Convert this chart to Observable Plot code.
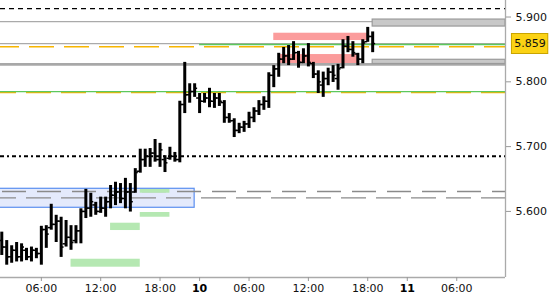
<!DOCTYPE html>
<html><head><meta charset="utf-8">
<script src="https://cdn.jsdelivr.net/npm/d3@7"></script>
<script src="https://cdn.jsdelivr.net/npm/@observablehq/plot@0.6"></script>
<style>
html,body{margin:0;padding:0;background:#fff;}
#chart{width:550px;height:300px;overflow:hidden;}
</style></head><body><div id="chart"></div>
<script>
// 30-minute OHLC bars (bar index = position on the session axis)
const opens  = [5.555,5.545,5.530,5.540,5.530,5.540,5.530,5.540,5.535,5.572,5.575,5.580,5.585,5.550,5.560,5.555,5.570,5.600,5.605,5.610,5.600,5.605,5.615,5.625,5.630,5.620,5.630,5.630,5.662,5.680,5.685,5.690,5.680,5.680,5.682,5.685,5.680,5.765,5.780,5.785,5.775,5.770,5.775,5.770,5.775,5.768,5.745,5.740,5.725,5.730,5.735,5.745,5.755,5.765,5.770,5.810,5.820,5.835,5.840,5.835,5.845,5.830,5.840,5.828,5.812,5.795,5.805,5.815,5.805,5.822,5.855,5.850,5.843,5.835,5.862,5.870];
const highs  = [5.568,5.555,5.547,5.552,5.550,5.543,5.545,5.543,5.577,5.578,5.611,5.594,5.591,5.586,5.578,5.578,5.604,5.634,5.628,5.614,5.622,5.622,5.640,5.645,5.643,5.651,5.643,5.666,5.696,5.696,5.697,5.711,5.705,5.686,5.699,5.691,5.770,5.830,5.797,5.797,5.782,5.782,5.790,5.782,5.782,5.771,5.751,5.743,5.736,5.739,5.753,5.760,5.771,5.777,5.814,5.825,5.844,5.853,5.856,5.862,5.847,5.851,5.859,5.830,5.817,5.815,5.821,5.825,5.827,5.865,5.870,5.862,5.844,5.865,5.884,5.877];
const lows   = [5.532,5.517,5.520,5.522,5.522,5.524,5.522,5.527,5.517,5.543,5.571,5.552,5.529,5.545,5.540,5.550,5.550,5.589,5.591,5.594,5.597,5.591,5.604,5.609,5.612,5.604,5.599,5.628,5.659,5.668,5.668,5.676,5.668,5.660,5.679,5.676,5.675,5.751,5.767,5.776,5.751,5.767,5.760,5.759,5.762,5.736,5.736,5.714,5.720,5.722,5.728,5.737,5.748,5.756,5.759,5.791,5.807,5.828,5.825,5.833,5.821,5.828,5.823,5.805,5.782,5.776,5.794,5.799,5.787,5.820,5.845,5.838,5.825,5.828,5.861,5.845];
const closes = [5.545,5.530,5.540,5.530,5.545,5.530,5.540,5.535,5.572,5.565,5.580,5.585,5.545,5.560,5.552,5.570,5.600,5.605,5.615,5.600,5.605,5.615,5.625,5.630,5.620,5.630,5.615,5.660,5.680,5.685,5.690,5.680,5.695,5.675,5.685,5.680,5.765,5.780,5.785,5.790,5.770,5.775,5.770,5.775,5.770,5.745,5.740,5.725,5.730,5.735,5.745,5.755,5.765,5.770,5.810,5.820,5.835,5.840,5.835,5.845,5.830,5.840,5.830,5.812,5.800,5.805,5.815,5.810,5.820,5.855,5.850,5.845,5.835,5.860,5.870,5.859];

// axis ticks
const timeTickBars   = [8, 20, 32, 50, 62, 74, 92];
const timeTickLabels = ["06:00","12:00","18:00","06:00","12:00","18:00","06:00"];
const dayTickBars    = [40, 82];
const dayTickLabels  = ["10", "11"];
const priceTicks     = [5.6, 5.7, 5.8, 5.9];
const lastPrice      = 5.859;

// horizontal levels
const levelBlackDashed = 5.913;
const levelGrayTop     = 5.893;
const levelGreenHigh   = 5.8576;
const levelGreenHighFrom = 40;
const levelOrangeHigh  = 5.854;
const levelGrayThick   = 5.827;
const levelGreenLow    = 5.785;
const levelOrangeLow   = 5.7835;
const levelDotted      = 5.685;
const levelGrayDashedA = 5.6307;
const levelGrayDashedB = 5.621;

// zones
const blueZoneX  = [-2, 39];
const blueZoneY  = [5.6056, 5.6349];
const greenZoneX1 = [28, 28, 22, 14];
const greenZoneX2 = [34, 34, 28, 28];
const greenZoneY1 = [5.6281, 5.5910, 5.5705, 5.5139];
const greenZoneY2 = [5.6338, 5.5983, 5.5818, 5.5262];
const pinkZoneX1 = [55, 56];
const pinkZoneX2 = [74, 72];
const pinkZoneY1 = [5.8637, 5.8278];
const pinkZoneY2 = [5.8750, 5.8421];
const grayBoxFrom = 75;
const grayBoxY1 = [5.8853, 5.8275];
const grayBoxY2 = [5.8961, 5.8340];

const xDomain = [-0.26, 101.86];
const yDomain = [5.498, 5.9255];

const bars = opens.map((o, i) => ({i, o, h: highs[i], l: lows[i], c: closes[i]}));
const greens = greenZoneX1.map((x1, j) => ({x1, x2: greenZoneX2[j], y1: greenZoneY1[j], y2: greenZoneY2[j]}));
const pinks = pinkZoneX1.map((x1, j) => ({x1, x2: pinkZoneX2[j], y1: pinkZoneY1[j], y2: pinkZoneY2[j]}));
const grays = grayBoxY1.map((y1, j) => ({x1: grayBoxFrom, x2: xDomain[1], y1, y2: grayBoxY2[j]}));
const timeMap = new Map(timeTickBars.map((b, j) => [b, timeTickLabels[j]]));
const dayMap = new Map(dayTickBars.map((b, j) => [b, dayTickLabels[j]]));

const chart = Plot.plot({
  width: 550, height: 300,
  marginLeft: 0, marginRight: 45, marginTop: 0, marginBottom: 23,
  style: {fontFamily: "DejaVu Sans", fontSize: "11px", background: "#fff"},
  x: {domain: xDomain, axis: null},
  y: {domain: yDomain, axis: null},
  marks: [
    // blue zone
    Plot.rect([0], {x1: blueZoneX[0], x2: blueZoneX[1], y1: blueZoneY[0], y2: blueZoneY[1], fill: "#e4eafc", stroke: "#5b8ff0", strokeWidth: 1.2}),
    // gray dashed levels
    Plot.ruleY([levelGrayDashedA], {stroke: "#8a8a8a", strokeWidth: 1.3, strokeDasharray: "24,11", strokeDashoffset: -2}),
    Plot.ruleY([levelGrayDashedB], {stroke: "#8a8a8a", strokeWidth: 1.3, strokeDasharray: "25,10", strokeDashoffset: 9}),
    // green zones
    Plot.rect(greens, {x1: "x1", x2: "x2", y1: "y1", y2: "y2", fill: "#b5e8b2"}),
    // pink zones
    Plot.rect(pinks, {x1: "x1", x2: "x2", y1: "y1", y2: "y2", fill: "#fb9c9c"}),
    // levels
    Plot.ruleY([levelBlackDashed], {stroke: "#000", strokeWidth: 1.3, strokeDasharray: "5,4"}),
    Plot.ruleY([levelGrayTop], {stroke: "#aaa", strokeWidth: 1.3}),
    Plot.ruleY([lastPrice], {stroke: "#aaa", strokeWidth: 1.3}),
    Plot.ruleY([levelOrangeHigh], {stroke: "#f7b500", strokeWidth: 1.5, strokeDasharray: "25,10", strokeDashoffset: 6}),
    Plot.ruleY([levelGreenHigh], {x1: levelGreenHighFrom, x2: xDomain[1], stroke: "#5cc85c", strokeWidth: 1.3}),
    Plot.ruleY([levelGrayThick], {stroke: "#a8a8a8", strokeWidth: 2.7}),
    Plot.ruleY([levelOrangeLow], {stroke: "#f7b500", strokeWidth: 1.5, strokeDasharray: "25,10", strokeDashoffset: 9}),
    Plot.ruleY([levelGreenLow], {stroke: "#5cc85c", strokeWidth: 1.3}),
    Plot.ruleY([levelDotted], {stroke: "#000", strokeWidth: 2, strokeDasharray: "4,3,2,3"}),
    // gray right-hand boxes
    Plot.rect(grays, {x1: "x1", x2: "x2", y1: "y1", y2: "y2", fill: "#c8c8c8", stroke: "#9a9a9a", strokeWidth: 1.2}),
    // OHLC bars
    Plot.ruleX(bars, {x: "i", y1: "l", y2: "h", stroke: "#000", strokeWidth: 3}),
    Plot.ruleY(bars, {y: "o", x1: d => d.i - 0.6, x2: "i", stroke: "#000", strokeWidth: 1.5}),
    Plot.ruleY(bars, {y: "c", x1: "i", x2: d => d.i + 0.6, stroke: "#000", strokeWidth: 1.5}),
    // frame lines
    Plot.ruleY([yDomain[0]], {stroke: "#aaa", strokeWidth: 1.3}),
    Plot.ruleX([xDomain[1]], {stroke: "#aaa", strokeWidth: 1.3}),
    // axes
    Plot.axisY({anchor: "right", ticks: priceTicks, tickFormat: d3.format(".3f"), tickSize: 5, tickPadding: 5, stroke: "#999", fill: "#111", fontSize: 11}),
    Plot.axisX({anchor: "bottom", ticks: timeTickBars, tickFormat: d => timeMap.get(d), tickSize: 4, tickPadding: 3, stroke: "#999", fill: "#111", fontSize: 11}),
    Plot.axisX({anchor: "bottom", ticks: dayTickBars, tickFormat: d => dayMap.get(d), tickSize: 4, tickPadding: 3, stroke: "#999", fill: "#000", fontSize: 11, fontWeight: "bold"}),
    // last price label
    Plot.ruleY([lastPrice], {x1: xDomain[1] + 1.2, x2: xDomain[1] + 8.75, stroke: "#c9a400", strokeWidth: 21}),
    Plot.ruleY([lastPrice], {x1: xDomain[1] + 1.4, x2: xDomain[1] + 8.55, stroke: "#fbd214", strokeWidth: 19}),
    Plot.text([lastPrice], {y: d => d, x: xDomain[1], dx: 24.5, text: d3.format(".3f"), fill: "#111", fontSize: 11, textAnchor: "middle"})
  ]
});
document.getElementById("chart").appendChild(chart);
</script></body></html>
